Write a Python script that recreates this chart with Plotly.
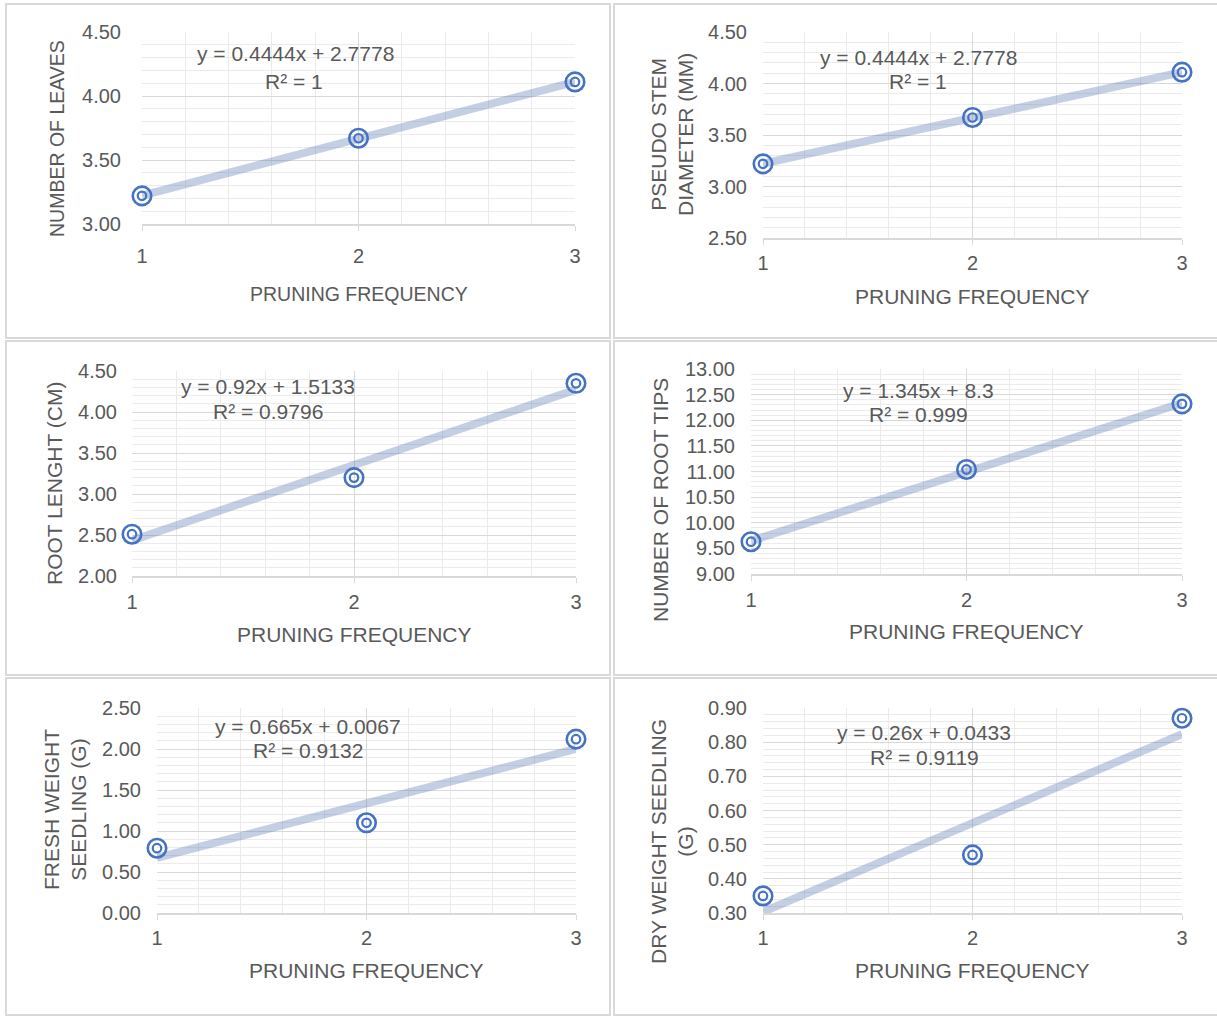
import plotly.graph_objects as go

# ---------------- data ----------------
pruning_freq = [1, 2, 3]
number_of_leaves = [3.22, 3.67, 4.11]
pseudo_stem_diameter = [3.22, 3.67, 4.11]
root_length = [2.51, 3.20, 4.35]
root_tips = [9.63, 11.04, 12.32]
fresh_weight = [0.79, 1.10, 2.12]
dry_weight = [0.35, 0.47, 0.87]

trend_slopes = [0.4444, 0.4444, 0.92, 1.345, 0.665, 0.26]
trend_intercepts = [2.7778, 2.7778, 1.5133, 8.3, 0.0067, 0.0433]
eq_labels = ["y = 0.4444x + 2.7778", "y = 0.4444x + 2.7778", "y = 0.92x + 1.5133",
             "y = 1.345x + 8.3", "y = 0.665x + 0.0067", "y = 0.26x + 0.0433"]
r2_labels = ["R² = 1", "R² = 1", "R² = 0.9796", "R² = 0.999", "R² = 0.9132", "R² = 0.9119"]
y_titles = ["NUMBER OF LEAVES", "PSEUDO STEM<br>DIAMETER (MM)", "ROOT LENGHT (CM)",
            "NUMBER OF ROOT TIPS", "FRESH WEIGHT<br>SEEDLING (G)", "DRY WEIGHT SEEDLING<br>(G)"]
x_title = "PRUNING FREQUENCY"
y_ranges = [[3.0, 4.5], [2.5, 4.5], [2.0, 4.5], [9.0, 13.0], [0.0, 2.5], [0.3, 0.9]]
y_dticks = [0.5, 0.5, 0.5, 0.5, 0.5, 0.1]
series = [number_of_leaves, pseudo_stem_diameter, root_length, root_tips, fresh_weight, dry_weight]

# ---------------- layout spec (pixels) ----------------
W, H = 1217, 1017
# plot area: x_left, x_right, y_top, y_bottom
plot_px = [(142, 575, 32, 224), (763, 1182, 32, 238), (132, 576, 371, 576),
           (751, 1182, 369, 574), (157, 576, 708, 913), (763, 1182, 708, 913)]
ytitle_px = [(57, 139), (672, 135), (55, 483), (660, 500), (65, 810), (672, 842)]
xtitle_px = [(359, 294), (972, 296), (354, 634), (966, 631), (366, 970), (972, 970)]
eq_px = [(295, 54), (918, 57), (268, 387), (918, 390), (308, 726), (924, 732)]
r2_px = [(294, 82), (918, 81), (268, 411), (918, 415), (308, 750), (924, 757)]
xlab_standoff = [8, 1, 2, 2, 1, 1]
ylab_standoff = [20, 15, 14, 15, 15, 15]
panel_boxes = [(6, 610, 4, 338), (614, 1230, 4, 338), (6, 610, 341, 675),
               (614, 1230, 341, 675), (6, 610, 678, 1015), (614, 1230, 678, 1015)]

FONT = "Arial, Liberation Sans, sans-serif"
TXT = "#595959"
BLUE = "#4472C4"
TREND = "rgba(100,130,185,0.38)"

def px_x(p):
    return p / W

def px_y(p):
    return 1 - p / H

fig = go.Figure()
annotations = []
shapes = []

for i in range(6):
    n = "" if i == 0 else str(i + 1)
    xa, ya = "x" + n, "y" + n
    m, b = trend_slopes[i], trend_intercepts[i]
    x0, x1 = pruning_freq[0], pruning_freq[-1]
    fig.add_trace(go.Scatter(x=[x0, x1], y=[m * x0 + b, m * x1 + b], mode="lines",
                             line=dict(color=TREND, width=8), xaxis=xa, yaxis=ya,
                             showlegend=False, cliponaxis=False, hoverinfo="skip"))
    fig.add_trace(go.Scatter(x=pruning_freq, y=series[i], mode="markers",
                             marker=dict(symbol="circle-open", size=18.5, color=BLUE,
                                         line=dict(width=2.6, color=BLUE)),
                             xaxis=xa, yaxis=ya, showlegend=False, cliponaxis=False))
    fig.add_trace(go.Scatter(x=pruning_freq, y=series[i], mode="markers",
                             marker=dict(symbol="circle-open", size=8.5, color=BLUE,
                                         line=dict(width=2.2, color=BLUE)),
                             xaxis=xa, yaxis=ya, showlegend=False, cliponaxis=False,
                             hoverinfo="skip"))

    xl, xr, yt, yb = plot_px[i]
    fs_tick = 20
    fs_title = 19.5 if i == 0 else 21
    fig.layout["xaxis" + n] = dict(
        domain=[px_x(xl), px_x(xr)], anchor=ya, range=[1, 3], tick0=1, dtick=1,
        showgrid=True, gridcolor="#d9d9d9", gridwidth=1.3, zeroline=False,
        showline=True, linecolor="#d9d9d9", linewidth=1.5,
        ticks="outside", ticklen=5, tickcolor="#d9d9d9", tickwidth=1.3,
        ticklabelstandoff=xlab_standoff[i],
        tickfont=dict(family=FONT, size=fs_tick, color=TXT),
        minor=dict(dtick=0.2, showgrid=True, gridcolor="#ebebeb", gridwidth=1, ticks=""),
        fixedrange=True, automargin=False,
    )
    fig.layout["yaxis" + n] = dict(
        domain=[px_y(yb), px_y(yt)], anchor=xa, range=y_ranges[i], dtick=y_dticks[i],
        tick0=y_ranges[i][0], tickformat=".2f",
        showgrid=True, gridcolor="#d9d9d9", gridwidth=1.3, zeroline=False, showline=False,
        ticks="", ticklabelstandoff=ylab_standoff[i],
        tickfont=dict(family=FONT, size=fs_tick, color=TXT),
        minor=dict(dtick=y_dticks[i] / 5, showgrid=True, gridcolor="#ebebeb", gridwidth=1),
        fixedrange=True, automargin=False,
    )
    # axis titles
    tx, ty = ytitle_px[i]
    annotations.append(dict(x=px_x(tx), y=px_y(ty), xref="paper", yref="paper",
                            text=y_titles[i], textangle=-90, showarrow=False,
                            font=dict(family=FONT, size=fs_title, color=TXT),
                            xanchor="center", yanchor="middle"))
    tx, ty = xtitle_px[i]
    annotations.append(dict(x=px_x(tx), y=px_y(ty), xref="paper", yref="paper",
                            text=x_title, showarrow=False,
                            font=dict(family=FONT, size=fs_title, color=TXT),
                            xanchor="center", yanchor="middle"))
    # equation labels
    for (ex, ey), t in ((eq_px[i], eq_labels[i]), (r2_px[i], r2_labels[i])):
        annotations.append(dict(x=px_x(ex), y=px_y(ey), xref="paper", yref="paper",
                                text=t, showarrow=False,
                                font=dict(family=FONT, size=21, color=TXT),
                                xanchor="center", yanchor="middle"))
    bx0, bx1, by0, by1 = panel_boxes[i]
    shapes.append(dict(type="rect", xref="paper", yref="paper",
                       x0=px_x(bx0), x1=px_x(bx1), y0=px_y(by1), y1=px_y(by0),
                       line=dict(color="#d9d9d9", width=2), layer="below"))

fig.update_layout(width=W, height=H,
                  margin=dict(l=0, r=0, t=0, b=0, pad=0, autoexpand=False),
                  paper_bgcolor="white", plot_bgcolor="white",
                  annotations=annotations, shapes=shapes, showlegend=False)

fig.write_html("out.html", config={"displayModeBar": False},
               post_script="document.body.style.margin='0';"
                           "document.body.style.padding='0';"
                           "document.body.style.overflow='hidden';")
